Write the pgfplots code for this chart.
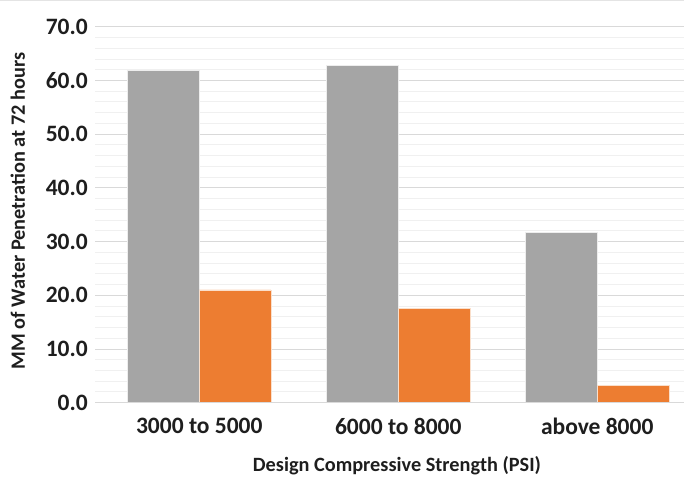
\documentclass[border=0pt]{standalone}
\usepackage{pgfplots}
\pgfplotsset{compat=1.18}
\usepackage{fontspec}
\setmainfont{Carlito}
\definecolor{grayser}{HTML}{A5A5A5}
\definecolor{orangeser}{HTML}{ED7D31}
\definecolor{majgrid}{HTML}{D9D9D9}
\definecolor{mingrid}{HTML}{F0F0F0}
\definecolor{txt}{HTML}{1E1E1E}

\begin{document}
\begin{tikzpicture}
\useasboundingbox (0,0) rectangle (684pt,483pt);
\draw[majgrid!70, line width=1.2pt] (0,482.4pt) -- (684pt,482.4pt);
\begin{axis}[
    at={(95pt,80.3pt)}, anchor=south west,
    scale only axis,
    width=589pt, height=375.9pt,
    xmin=-0.524, xmax=2.436,
    ymin=0, ymax=70,
    axis line style={draw=none},
    ytick={0,10,...,70},
    minor y tick num=4,
    ymajorgrids, yminorgrids,
    major grid style={majgrid, line width=1pt},
    minor grid style={mingrid, line width=1pt},
    major tick length=0pt, minor tick length=0pt,
    xtick={0,1,2},
    xticklabels={3000 to 5000, 6000 to 8000, above 8000},
    /pgf/number format/assume math mode=true,
    yticklabel style={font=\fontsize{23.5}{27}\selectfont\bfseries, text=txt,
        inner sep=0pt, anchor=east, xshift=-7pt,
        /pgf/number format/.cd, fixed, fixed zerofill, precision=1},
    xticklabel style={font=\fontsize{23.5}{27}\selectfont\bfseries, text=txt,
        inner sep=0pt, anchor=north, yshift=-15pt},
    xlabel={Design Compressive Strength (PSI)},
    ylabel={MM of Water Penetration at 72 hours},
    xlabel style={font=\fontsize{20.3}{24}\selectfont\bfseries, text=txt,
        at={(axis description cs:0.5127,-0.168)}, anchor=center},
    ylabel style={font=\fontsize{20.3}{24}\selectfont\bfseries, text=txt,
        at={(axis description cs:-0.131,0.51)}, anchor=center, rotate=0},
    clip=false,
]
  \addplot[ybar, bar width=0.36, bar shift=-0.18, fill=grayser, draw=white!80!grayser, line width=0.6pt]
    coordinates {(0,61.9) (1,62.8) (2,31.7)};
  \addplot[ybar, bar width=0.36, bar shift=0.18, fill=orangeser, draw=white!75!orangeser, line width=0.6pt]
    coordinates {(0,21.0) (1,17.5) (2,3.2)};
  \draw[majgrid, line width=1.2pt] (axis cs:-0.524,0) -- (axis cs:2.436,0);
\end{axis}
\end{tikzpicture}
\end{document}
